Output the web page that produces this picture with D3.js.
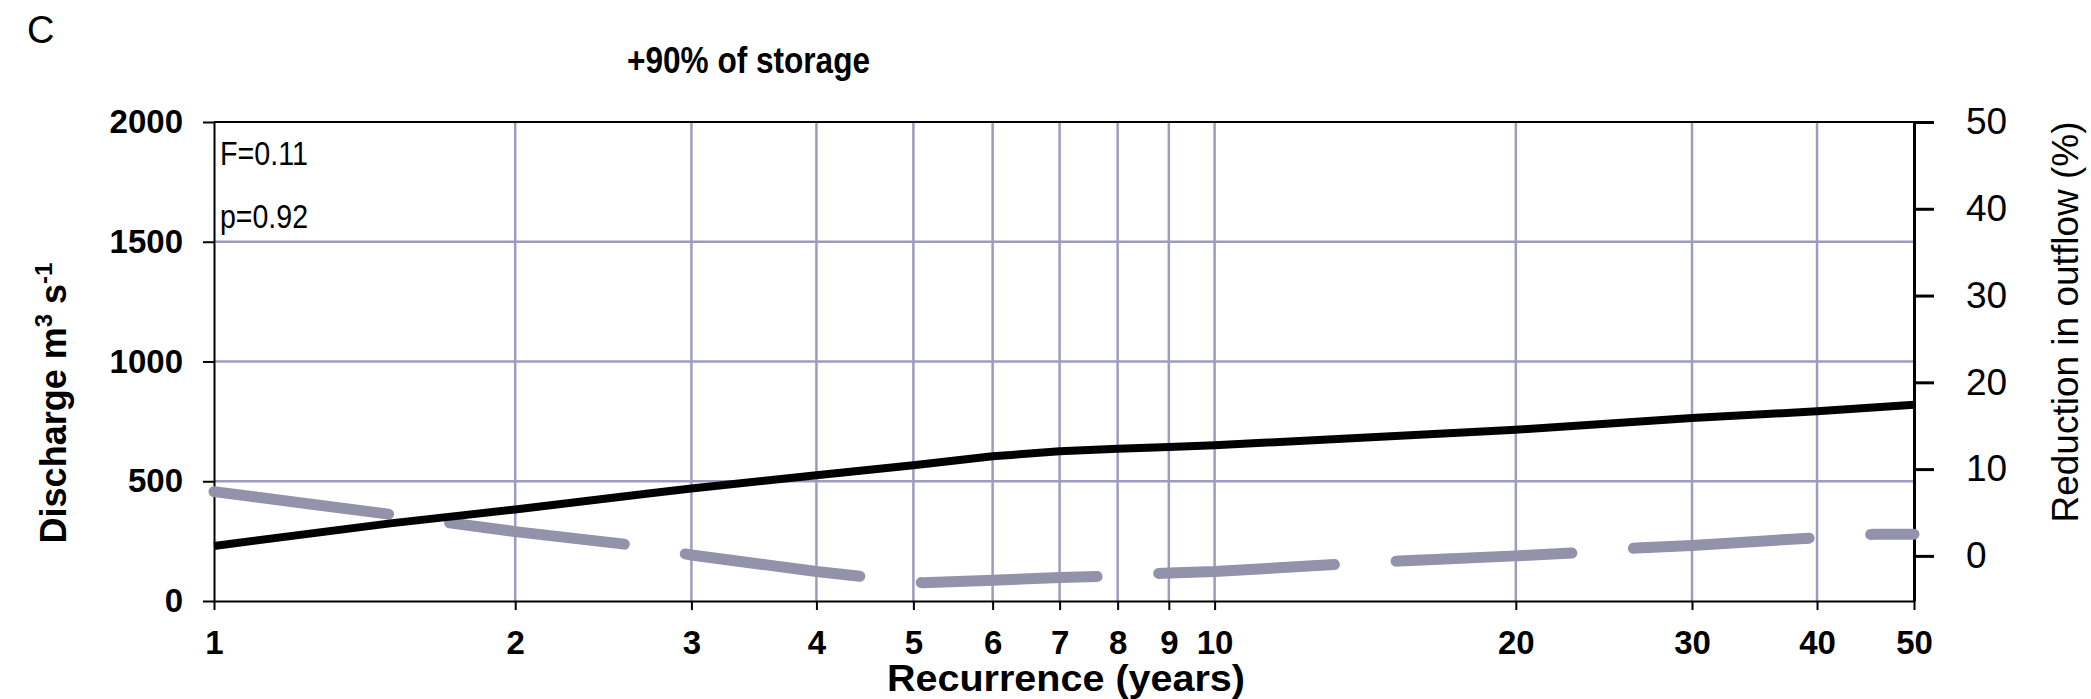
<!DOCTYPE html>
<html>
<head>
<meta charset="utf-8">
<script src="https://cdn.jsdelivr.net/npm/d3@7"></script>
<style>
body { margin: 0; background: #fff; }
svg { display: block; font-family: Arial, "Liberation Sans", sans-serif; }
</style>
</head>
<body>
<div id="vis"></div>
<script>
// discharge (left axis, m3/s) vs recurrence
const discharge_x = [1, 1.5, 2, 2.73, 3, 4, 5, 6, 7, 8, 9, 10, 20, 30, 40, 50];
const discharge_y = [230, 324, 382, 450, 470, 525, 567, 604, 625, 636, 643, 650, 715, 764, 792, 819];

// reduction in outflow (right axis, %)
const reduction_x = [1, 1.52, 1.72, 2, 2.64, 3, 4, 4.55, 5.11, 6, 7, 8, 8.87, 10, 13.6, 15.3, 20, 23.5, 26.4, 30, 40, 45.7, 50];
const reduction_y = [7.4, 4.7, 3.8, 2.8, 1.2, 0.1, -1.8, -2.5, -3.1, -2.8, -2.5, -2.3, -2.0, -1.8, -0.9, -0.6, 0.0, 0.4, 0.9, 1.2, 2.1, 2.5, 2.5];

const X_TICKS = [1, 2, 3, 4, 5, 6, 7, 8, 9, 10, 20, 30, 40, 50];
const LEFT_TICKS = [0, 500, 1000, 1500, 2000];
const RIGHT_TICKS = [0, 10, 20, 30, 40, 50];

const FRAME_WIDTH = 2091;
const FRAME_HEIGHT = 699;
const MARGINS = {left: 214, right: 177, top: 122, bottom: 98};
const GRID = "#9c9cbc";

const FRAME = d3.select("#vis")
    .append("svg")
      .attr("width", FRAME_WIDTH)
      .attr("height", FRAME_HEIGHT);

const X_SCALE = d3.scaleLog()
    .domain([1, 50])
    .range([MARGINS.left, FRAME_WIDTH - MARGINS.right]);

const Y_LEFT = d3.scaleLinear()
    .domain([0, 2000])
    .range([FRAME_HEIGHT - MARGINS.bottom, MARGINS.top]);

const Y_RIGHT = d3.scaleLinear()
    .domain([-5.2, 50])
    .range([FRAME_HEIGHT - MARGINS.bottom, MARGINS.top]);

const x0 = X_SCALE.range()[0], x1 = X_SCALE.range()[1];
const yTop = MARGINS.top, yBot = FRAME_HEIGHT - MARGINS.bottom;

// gridlines
FRAME.append("g").selectAll("line")
    .data(X_TICKS.filter(d => d > 1 && d < 50))
    .enter().append("line")
      .attr("x1", d => X_SCALE(d)).attr("x2", d => X_SCALE(d))
      .attr("y1", yTop).attr("y2", yBot)
      .attr("stroke", GRID).attr("stroke-width", 2.5);

FRAME.append("g").selectAll("line")
    .data(LEFT_TICKS.filter(d => d > 0 && d < 2000))
    .enter().append("line")
      .attr("x1", x0).attr("x2", x1)
      .attr("y1", d => Y_LEFT(d)).attr("y2", d => Y_LEFT(d))
      .attr("stroke", GRID).attr("stroke-width", 2.5);

// top border
FRAME.append("line")
    .attr("x1", x0).attr("x2", x1).attr("y1", yTop).attr("y2", yTop)
    .attr("stroke", "#000").attr("stroke-width", 2);

// axes
const leftAxis = FRAME.append("g")
    .attr("transform", "translate(" + x0 + ",0)")
    .call(d3.axisLeft(Y_LEFT).tickValues(LEFT_TICKS).tickFormat(d3.format("d"))
        .tickSize(11).tickSizeOuter(0).tickPadding(20));

const bottomAxis = FRAME.append("g")
    .attr("transform", "translate(0," + yBot + ")")
    .call(d3.axisBottom(X_SCALE).tickValues(X_TICKS).tickFormat(d3.format("d"))
        .tickSize(9).tickSizeOuter(0).tickPadding(21));

const rightAxis = FRAME.append("g")
    .attr("transform", "translate(" + x1 + ",0)")
    .call(d3.axisRight(Y_RIGHT).tickValues(RIGHT_TICKS).tickSize(20).tickSizeOuter(0).tickPadding(32));

[leftAxis, bottomAxis, rightAxis].forEach(a => {
    a.attr("font-family", null).attr("font-size", null);
    a.selectAll("line").attr("stroke", "#000").attr("stroke-width", 2);
    a.select(".domain").attr("stroke", "#000").attr("stroke-width", 2);
    a.selectAll("text").attr("fill", "#000");
});
rightAxis.select(".domain").attr("stroke-width", 3);
rightAxis.selectAll("line").attr("stroke-width", 3);
leftAxis.selectAll("text").style("font-size", "33px").style("font-weight", "bold");
bottomAxis.selectAll("text").style("font-size", "33px").style("font-weight", "bold");
rightAxis.selectAll("text").style("font-size", "37px");

// reduction series (dashed, grey)
const reduction = reduction_x.map((d, i) => ({x: d, y: reduction_y[i]}));
FRAME.append("path")
    .datum(reduction)
    .attr("fill", "none")
    .attr("stroke", "#9292ab")
    .attr("stroke-width", 11)
    .attr("stroke-linecap", "round")
    .attr("stroke-dasharray", "176 61.7")
    .attr("d", d3.line().x(d => X_SCALE(d.x)).y(d => Y_RIGHT(d.y)));

// discharge series (solid, black)
const discharge = discharge_x.map((d, i) => ({x: d, y: discharge_y[i]}));
FRAME.append("path")
    .datum(discharge)
    .attr("fill", "none")
    .attr("stroke", "#000")
    .attr("stroke-width", 8)
    .attr("stroke-linejoin", "round")
    .attr("d", d3.line().x(d => X_SCALE(d.x)).y(d => Y_LEFT(d.y)));

// texts
FRAME.append("text").attr("x", 27).attr("y", 43)
    .style("font-size", "38px").text("C");

FRAME.append("text").attr("x", 627).attr("y", 73)
    .attr("textLength", 243).attr("lengthAdjust", "spacingAndGlyphs")
    .style("font-size", "37px").style("font-weight", "bold").text("+90% of storage");

FRAME.append("text").attr("x", 220).attr("y", 165)
    .attr("textLength", 88).attr("lengthAdjust", "spacingAndGlyphs")
    .style("font-size", "33px").text("F=0.11");
FRAME.append("text").attr("x", 220).attr("y", 228)
    .attr("textLength", 88).attr("lengthAdjust", "spacingAndGlyphs")
    .style("font-size", "33px").text("p=0.92");

FRAME.append("text")
    .attr("x", 887).attr("y", 691)
    .attr("textLength", 358).attr("lengthAdjust", "spacingAndGlyphs")
    .style("font-size", "36px").style("font-weight", "bold")
    .text("Recurrence (years)");

const yl = FRAME.append("text")
    .attr("transform", "translate(66,403) rotate(-90)")
    .attr("text-anchor", "middle")
    .style("font-size", "36px").style("font-weight", "bold");
yl.append("tspan").text("Discharge m");
yl.append("tspan").attr("dy", -14).style("font-size", "24px").text("3");
yl.append("tspan").attr("dy", 14).text(" s");
yl.append("tspan").attr("dy", -14).style("font-size", "24px").text("-1");

FRAME.append("text")
    .attr("transform", "translate(2078,322) rotate(-90)")
    .attr("text-anchor", "middle")
    .style("font-size", "37px")
    .text("Reduction in outflow (%)");
</script>
</body>
</html>
